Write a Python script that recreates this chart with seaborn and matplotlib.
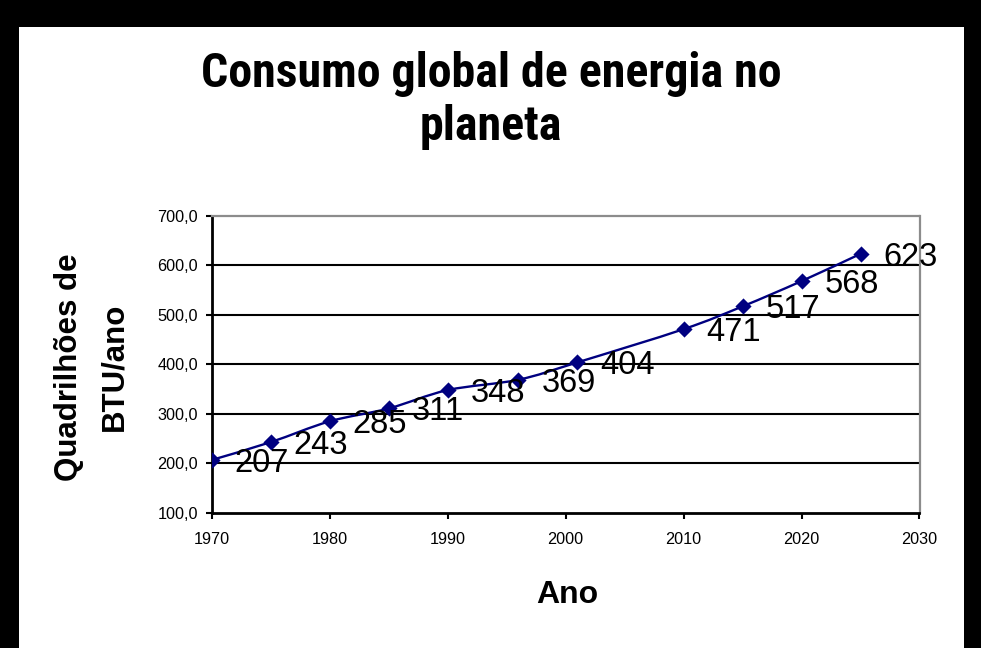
import matplotlib
matplotlib.use("Agg")
import matplotlib.pyplot as plt
from matplotlib import font_manager
from matplotlib.path import Path
from matplotlib.patches import PathPatch, Rectangle
import numpy as np
import pandas as pd
import seaborn as sns

# Consumo mundial de energia (quadrilhões de BTU por ano)
anos = [1970, 1975, 1980, 1985, 1990, 1996, 2001, 2010, 2015, 2020, 2025]
consumo = [207, 243, 285, 311, 348, 369, 404, 471, 517, 568, 623]

xticks = [1970, 1980, 1990, 2000, 2010, 2020, 2030]
yticks = [100, 200, 300, 400, 500, 600, 700]
ytick_labels = ["100,0", "200,0", "300,0", "400,0", "500,0", "600,0", "700,0"]

titulo = "Consumo global de energia no\nplaneta"
rotulo_x = "Ano"
rotulo_y = "Quadrilhões de\nBTU/ano"

df = pd.DataFrame({"ano": anos, "consumo": consumo})

sns.set_style("white")
plt.rcParams["font.family"] = ["Liberation Sans", "DejaVu Sans"]
plt.rcParams["text.color"] = "black"
plt.rcParams["axes.labelcolor"] = "black"
plt.rcParams["xtick.color"] = "black"
plt.rcParams["ytick.color"] = "black"

# a condensed face for the title when one is installed
available = {f.name for f in font_manager.fontManager.ttflist}
title_family, title_size, title_ls = "Liberation Sans", 29, 1.36
for name, size, ls in [("Liberation Sans Narrow", 35, 1.13),
                       ("Arial Narrow", 35, 1.13),
                       ("Roboto Condensed", 34.5, 1.2)]:
    if name in available:
        title_family, title_size, title_ls = name, size, ls
        break

W, H = 981, 648
fig = plt.figure(figsize=(W / 100, H / 100), dpi=100)
fig.patch.set_facecolor("black")
# white chart sheet inside the black frame
fig.patches.append(Rectangle((19 / W, 0), (964 - 19) / W, (H - 27) / H,
                             transform=fig.transFigure, facecolor="white",
                             edgecolor="none", zorder=-5))

ax = fig.add_axes([211.7 / W, 1 - 513 / H, (919.5 - 211.7) / W, (513 - 215.7) / H])
ax.set_zorder(2)
ax.set_facecolor("white")

navy = "#000080"

# smoothed connecting line (cubic Bezier through the points)
x = np.asarray(anos, dtype=float)
y = np.asarray(consumo, dtype=float)
verts = [(x[0], y[0])]
codes = [Path.MOVETO]
n = len(x)
for i in range(n - 1):
    p0 = np.array([x[max(i - 1, 0)], y[max(i - 1, 0)]])
    p1 = np.array([x[i], y[i]])
    p2 = np.array([x[i + 1], y[i + 1]])
    p3 = np.array([x[min(i + 2, n - 1)], y[min(i + 2, n - 1)]])
    c1 = p1 + (p2 - p0) / 6.0
    c2 = p2 - (p3 - p1) / 6.0
    verts += [tuple(c1), tuple(c2), tuple(p2)]
    codes += [Path.CURVE4] * 3
ax.add_patch(PathPatch(Path(verts, codes), facecolor="none", edgecolor=navy,
                       lw=1.7, zorder=3, transform=ax.transData))

sns.scatterplot(data=df, x="ano", y="consumo", marker="D", s=68, color=navy,
                edgecolor=navy, linewidth=0, zorder=4, ax=ax, legend=False)

for a, c in zip(anos, consumo):
    ax.annotate(f"{c}", xy=(a, c), xytext=(16.5, 0), textcoords="offset points",
                ha="left", va="center_baseline", fontsize=23.5, color="black",
                zorder=5, annotation_clip=False)

ax.set_xlim(1970, 2030)
ax.set_ylim(100, 700)
ax.set_xticks(xticks)
ax.set_xticklabels([str(t) for t in xticks])
ax.set_yticks(yticks)
ax.set_yticklabels(ytick_labels)
ax.set_xlabel("")
ax.set_ylabel("")

ax.tick_params(axis="x", direction="out", length=4, width=1.5, color="black",
               pad=10, labelsize=11.7, labelcolor="black", bottom=True, top=False)
ax.tick_params(axis="y", direction="out", length=4, width=1.5, color="black",
               pad=6, labelsize=11.7, labelcolor="black", left=True, right=False)

ax.yaxis.grid(True, color="black", lw=1.5)
ax.xaxis.grid(False)
gl = ax.get_ygridlines()
gl[0].set_visible(False)
gl[-1].set_visible(False)
ax.set_axisbelow(True)

for side in ["left", "bottom"]:
    ax.spines[side].set_color("black")
    ax.spines[side].set_linewidth(2)
for side in ["top", "right"]:
    ax.spines[side].set_color("#8c8c8c")
    ax.spines[side].set_linewidth(1.6)

fig.text(491 / W, 1 - 51 / H, titulo, ha="center", va="top", fontsize=title_size,
         fontweight="bold", family=[title_family, "DejaVu Sans"],
         linespacing=title_ls, multialignment="center", color="black")
fig.text(567.5 / W, 1 - 602.7 / H, rotulo_x, ha="center", va="baseline",
         fontsize=23, fontweight="bold", color="black")
fig.text(91.5 / W, 1 - 367 / H, rotulo_y, ha="center", va="center",
         rotation=90, fontsize=22.5, fontweight="bold", linespacing=1.68,
         multialignment="center", color="black")

fig.savefig("out.png", dpi=100, facecolor=fig.get_facecolor())
